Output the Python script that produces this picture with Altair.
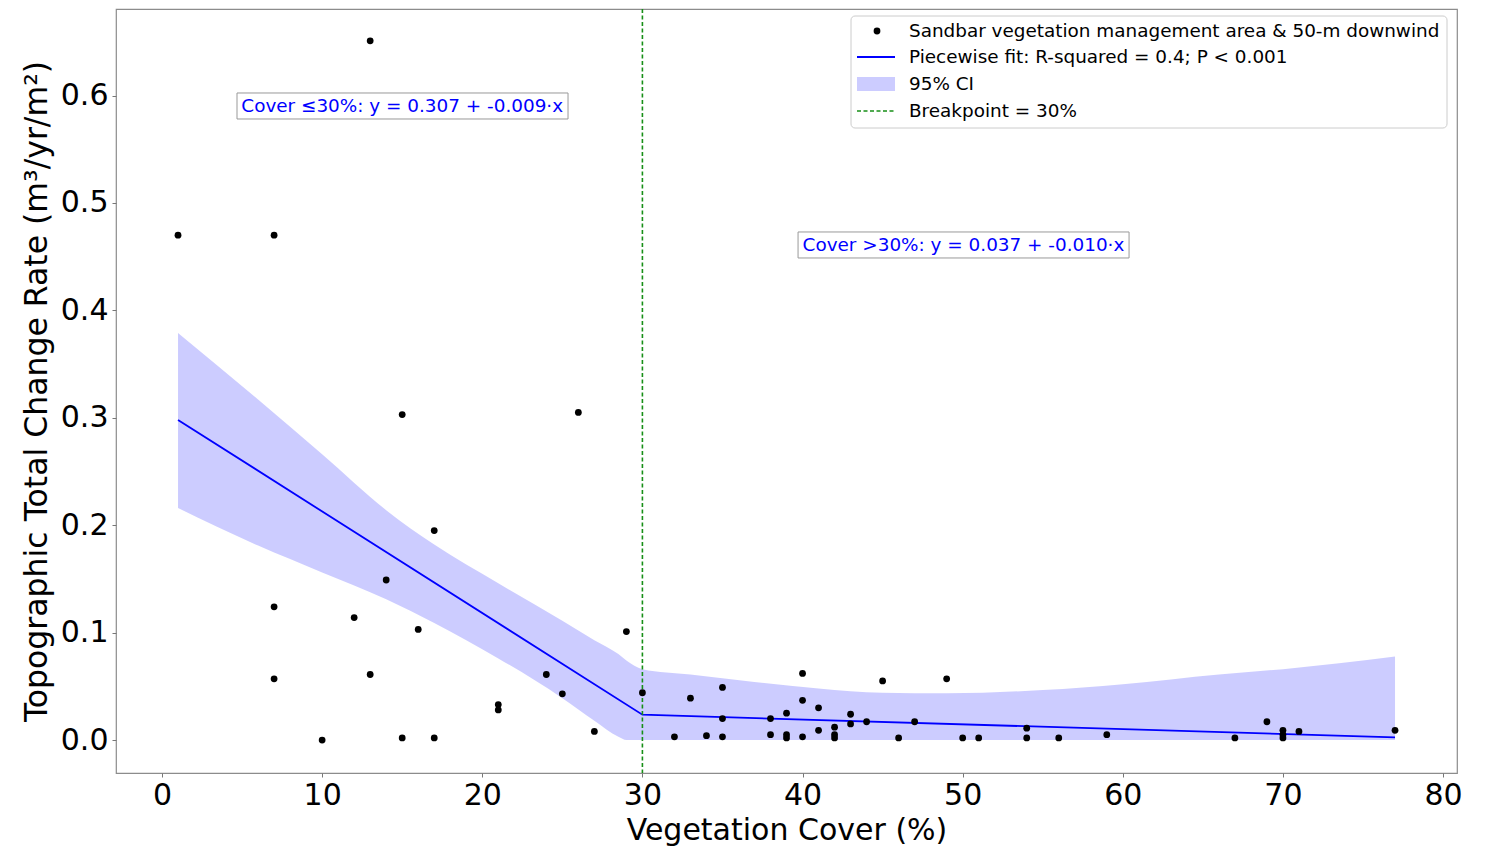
import altair as alt
import pandas as pd

# ---------------- data ----------------
pts_x = [1, 7, 13, 15, 26, 17, 14, 7, 12, 16, 29, 7, 13, 24, 25, 21, 21, 27, 10, 15, 17,
         30, 32, 33, 34, 35, 35, 35, 38, 38, 39, 39, 39, 40, 40, 40, 41, 41, 42, 42, 42,
         43, 43, 44, 45, 46, 47, 49,
         50, 51, 54, 54, 56, 59, 67, 69, 70, 70, 70, 71, 77]
pts_y = [0.470, 0.470, 0.651, 0.303, 0.305, 0.195, 0.149, 0.124, 0.114, 0.103, 0.101,
         0.057, 0.061, 0.061, 0.043, 0.033, 0.028, 0.008, 0.000, 0.002, 0.002,
         0.044, 0.003, 0.039, 0.004, 0.049, 0.020, 0.003, 0.020, 0.005, 0.025, 0.005, 0.002,
         0.062, 0.037, 0.003, 0.030, 0.009, 0.012, 0.005, 0.002,
         0.024, 0.015, 0.017, 0.055, 0.002, 0.017, 0.057,
         0.002, 0.002, 0.011, 0.002, 0.002, 0.005, 0.002, 0.017, 0.009, 0.005, 0.002, 0.008, 0.009]

fit_x = [1, 30, 77]
fit_y = [0.298, 0.0236, 0.0025]

ci_x = [1, 6, 10, 14, 17, 21, 25, 27, 28.5, 29, 30, 33, 37, 41, 45, 49, 55, 60, 66, 70, 77]
ci_lo = [0.216, 0.181, 0.156, 0.131, 0.109, 0.076, 0.039, 0.018, 0.003, 0.0, 0.0,
         0.0, 0.0, 0.0, 0.0, 0.0, 0.0, 0.0, 0.0, 0.0, 0.0]
ci_hi = [0.379, 0.317, 0.266, 0.214, 0.182, 0.146, 0.111, 0.093, 0.080, 0.074, 0.066,
         0.061, 0.054, 0.048, 0.044, 0.0435, 0.0465, 0.052, 0.061, 0.066, 0.0777]

breakpoint_x = [30]

ann_text = ["Cover \u226430%: y = 0.307 + -0.009\u00b7x", "Cover >30%: y = 0.037 + -0.010\u00b7x"]
ann_x = [15.0, 50.05]
ann_y = [0.5903, 0.4609]
ann_x0 = [4.684, 39.72]
ann_x1 = [25.355, 60.39]
ann_y0 = [0.5782, 0.4488]
ann_y1 = [0.6024, 0.473]

legend_labels = ["Sandbar vegetation management area & 50-m downwind",
                 "Piecewise fit: R-squared = 0.4; P < 0.001",
                 "95% CI",
                 "Breakpoint = 30%"]

x_ticks = [0, 10, 20, 30, 40, 50, 60, 70, 80]
y_ticks = [0.0, 0.1, 0.2, 0.3, 0.4, 0.5, 0.6]

# ---------------- tables ----------------
pts = pd.DataFrame({"x": pts_x, "y": pts_y})
fit = pd.DataFrame({"x": fit_x, "y": fit_y})
ci = pd.DataFrame({"x": ci_x, "lo": ci_lo, "hi": ci_hi})
bp = pd.DataFrame({"x": breakpoint_x})
ann = pd.DataFrame({"t": ann_text, "x": ann_x, "y": ann_y,
                    "x0": ann_x0, "x1": ann_x1, "y0": ann_y0, "y1": ann_y1})
one = pd.DataFrame({"a": [0]})

FONT = "DejaVu Sans"
W, H = 1341, 764
xs = alt.Scale(domain=[-2.873, 80.87], nice=False, zero=False)
ys = alt.Scale(domain=[-0.0307, 0.6806], nice=False, zero=False)

x_enc = alt.X("x:Q", scale=xs,
              axis=alt.Axis(values=x_ticks, format="d", title="Vegetation Cover (%)",
                            grid=False, domain=False, tickSize=4, tickColor="#777",
                            labelFont=FONT, labelFontSize=30, labelColor="black", labelPadding=3,
                            titleFont=FONT, titleFontSize=30, titleFontWeight="normal",
                            titleColor="black", titlePadding=5))
y_axis = alt.Axis(values=y_ticks, format=".1f",
                  title="Topographic Total Change Rate (m\u00b3/yr/m\u00b2)",
                  grid=False, domain=False, tickSize=4, tickColor="#777",
                  labelFont=FONT, labelFontSize=30, labelColor="black", labelPadding=4,
                  titleFont=FONT, titleFontSize=31.5, titleFontWeight="normal",
                  titleColor="black", titlePadding=7)

band = alt.Chart(ci).mark_area(color="#0000ff", opacity=0.2, interpolate="monotone").encode(
    x=x_enc, y=alt.Y("lo:Q", scale=ys, axis=y_axis), y2="hi:Q")

line = alt.Chart(fit).mark_line(color="#0000ff", strokeWidth=1.8).encode(
    x=alt.X("x:Q", scale=xs), y=alt.Y("y:Q", scale=ys))

vline = alt.Chart(bp).mark_rule(color="#178f17", strokeWidth=1.6, strokeDash=[4, 2.5]).encode(
    x=alt.X("x:Q", scale=xs))

points = alt.Chart(pts).mark_circle(color="black", size=46, opacity=1).encode(
    x=alt.X("x:Q", scale=xs), y=alt.Y("y:Q", scale=ys))

ann_box = alt.Chart(ann).mark_rect(fill="white", stroke="#999", strokeWidth=1).encode(
    x=alt.X("x0:Q", scale=xs), x2="x1:Q", y=alt.Y("y0:Q", scale=ys), y2="y1:Q")
ann_txt = alt.Chart(ann).mark_text(font=FONT, fontSize=18.4, color="#0000ff",
                                   align="center", baseline="middle").encode(
    x=alt.X("x:Q", scale=xs), y=alt.Y("y:Q", scale=ys), text="t:N")

# ---------------- legend (inside the plot, top right) ----------------
LX0, LX1, LY0, LY1 = 735, 1331, 7, 119
rows = [22, 48, 75, 102]
SYM_C, SYM0, SYM1, TXT = 761, 741, 779, 793

leg_box = alt.Chart(one).mark_rect(fill="white", fillOpacity=0.85, stroke="#cccccc",
                                   strokeWidth=1, cornerRadius=4).encode(
    x=alt.value(LX0), x2=alt.value(LX1), y=alt.value(LY0), y2=alt.value(LY1))
leg_pt = alt.Chart(one).mark_circle(color="black", size=46, opacity=1).encode(
    x=alt.value(SYM_C), y=alt.value(rows[0]))
leg_line = alt.Chart(one).mark_rule(color="#0000ff", strokeWidth=2).encode(
    x=alt.value(SYM0), x2=alt.value(SYM1), y=alt.value(rows[1]))
leg_ci = alt.Chart(one).mark_rect(color="#0000ff", opacity=0.2).encode(
    x=alt.value(SYM0), x2=alt.value(SYM1), y=alt.value(rows[2] - 7), y2=alt.value(rows[2] + 7))
leg_dash = alt.Chart(one).mark_rule(color="#178f17", strokeWidth=1.6, strokeDash=[4, 2.5]).encode(
    x=alt.value(SYM0), x2=alt.value(SYM1), y=alt.value(rows[3]))
leg_texts = [
    alt.Chart(one).mark_text(text=lab, font=FONT, fontSize=18.4, color="black",
                             align="left", baseline="middle").encode(
        x=alt.value(TXT), y=alt.value(r))
    for lab, r in zip(legend_labels, rows)
]

chart = alt.layer(band, line, vline, points, ann_box, ann_txt,
                  leg_box, leg_pt, leg_line, leg_ci, leg_dash, *leg_texts).properties(
    width=W, height=H,
    autosize=alt.AutoSizeParams(type="none"),
    padding={"left": 108, "top": 1, "right": 24, "bottom": 76},
).configure_view(stroke="#8c8c8c", strokeWidth=1.2)

chart.save("out.html", embed_options={"renderer": "svg", "actions": False})
